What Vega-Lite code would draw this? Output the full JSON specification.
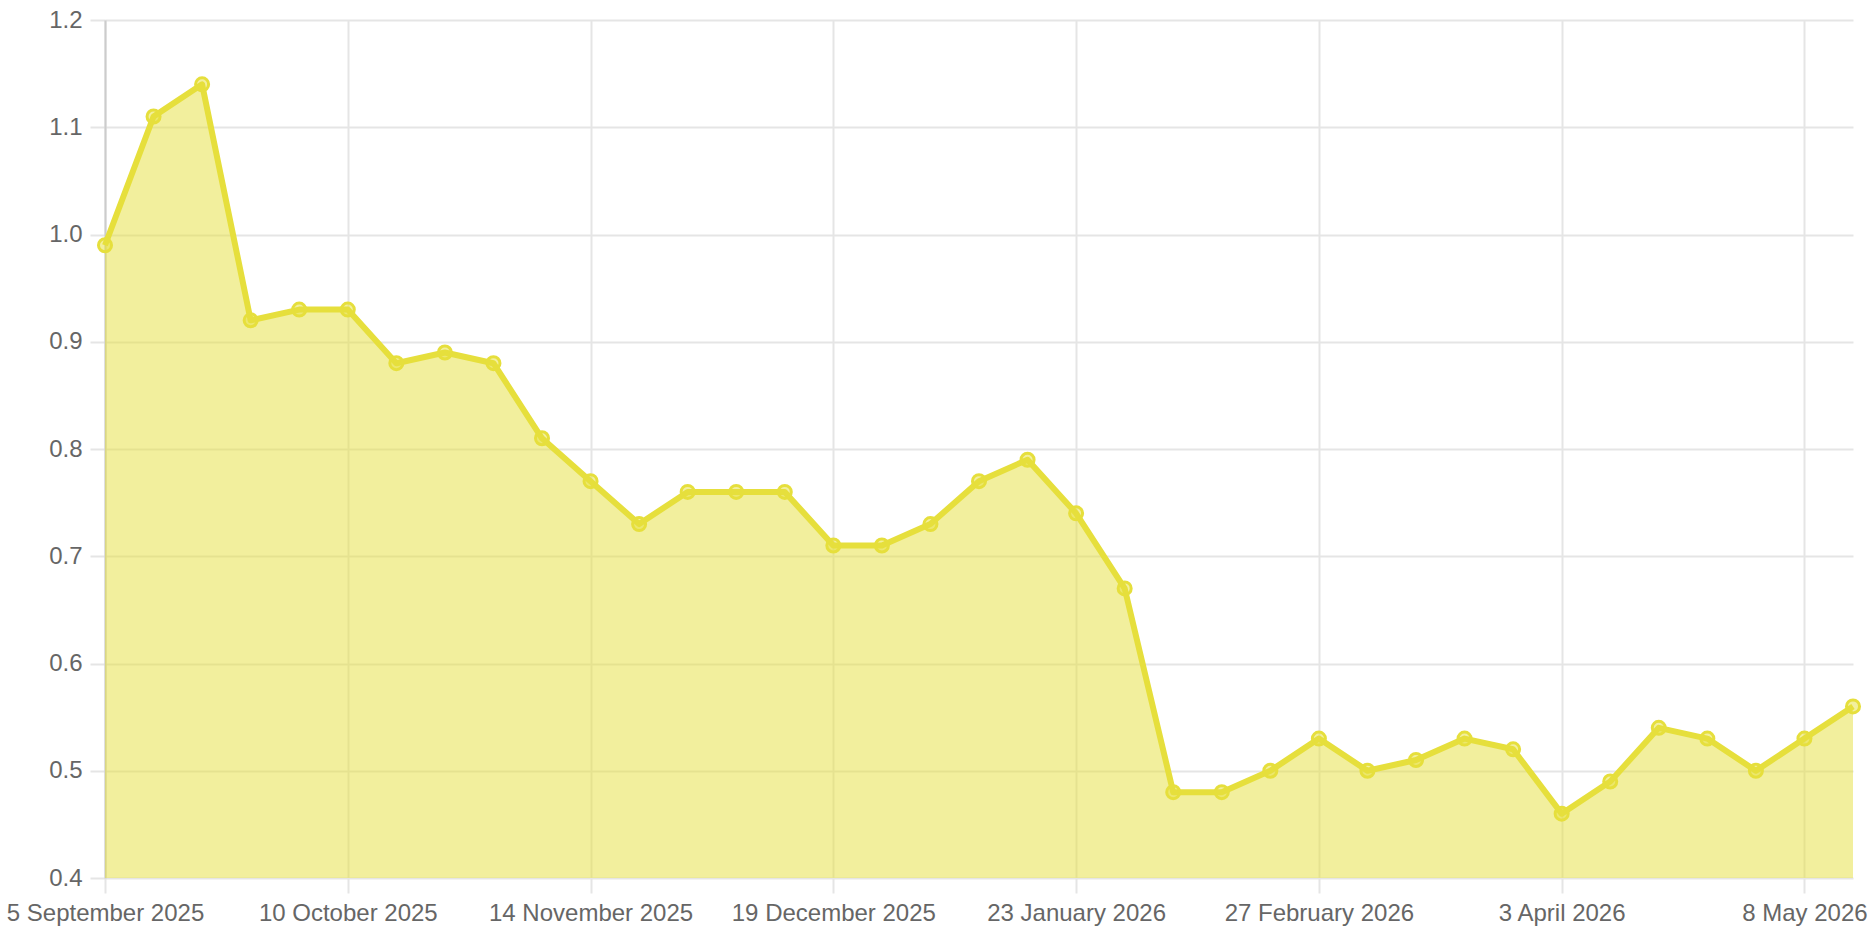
{
  "$schema": "https://vega.github.io/schema/vega-lite/v6.json",
  "autosize": {"type": "none"},
  "width": 1748,
  "height": 858,
  "padding": {"left": 105, "top": 20, "right": 19, "bottom": 58},
  "background": "white",
  "config": {
    "view": {"stroke": null},
    "axis": {
      "labelFont": "Liberation Sans",
      "labelFontSize": 24,
      "labelColor": "#666666",
      "labelLimit": 0,
      "gridColor": "#e5e5e5",
      "gridWidth": 2,
      "tickColor": "#e5e5e5",
      "tickWidth": 2,
      "tickSize": 15,
      "domainColor": "#cccccc",
      "domainWidth": 2,
      "title": null
    }
  },
  "data": {
    "values": [
      {"week": "2025-09-05", "value": 0.99},
      {"week": "2025-09-12", "value": 1.11},
      {"week": "2025-09-19", "value": 1.14},
      {"week": "2025-09-26", "value": 0.92},
      {"week": "2025-10-03", "value": 0.93},
      {"week": "2025-10-10", "value": 0.93},
      {"week": "2025-10-17", "value": 0.88},
      {"week": "2025-10-24", "value": 0.89},
      {"week": "2025-10-31", "value": 0.88},
      {"week": "2025-11-07", "value": 0.81},
      {"week": "2025-11-14", "value": 0.77},
      {"week": "2025-11-21", "value": 0.73},
      {"week": "2025-11-28", "value": 0.76},
      {"week": "2025-12-05", "value": 0.76},
      {"week": "2025-12-12", "value": 0.76},
      {"week": "2025-12-19", "value": 0.71},
      {"week": "2025-12-26", "value": 0.71},
      {"week": "2026-01-02", "value": 0.73},
      {"week": "2026-01-09", "value": 0.77},
      {"week": "2026-01-16", "value": 0.79},
      {"week": "2026-01-23", "value": 0.74},
      {"week": "2026-01-30", "value": 0.67},
      {"week": "2026-02-06", "value": 0.48},
      {"week": "2026-02-13", "value": 0.48},
      {"week": "2026-02-20", "value": 0.50},
      {"week": "2026-02-27", "value": 0.53},
      {"week": "2026-03-06", "value": 0.50},
      {"week": "2026-03-13", "value": 0.51},
      {"week": "2026-03-20", "value": 0.53},
      {"week": "2026-03-27", "value": 0.52},
      {"week": "2026-04-03", "value": 0.46},
      {"week": "2026-04-10", "value": 0.49},
      {"week": "2026-04-17", "value": 0.54},
      {"week": "2026-04-24", "value": 0.53},
      {"week": "2026-05-01", "value": 0.50},
      {"week": "2026-05-08", "value": 0.53},
      {"week": "2026-05-15", "value": 0.56}
    ]
  },
  "encoding": {
    "x": {
      "field": "week",
      "type": "temporal",
      "scale": {
        "type": "utc",
        "nice": false,
        "domain": [
          {"year": 2025, "month": 9, "date": 5, "utc": true},
          {"year": 2026, "month": 5, "date": 15, "utc": true}
        ]
      },
      "axis": {
        "labelExpr": "utcFormat(datum.value, '%-d %B %Y')",
        "labelPadding": 8,
        "labelOverlap": false,
        "labelFlush": false,
        "domain": false,
        "values": [
          {"year": 2025, "month": 9, "date": 5, "utc": true},
          {"year": 2025, "month": 10, "date": 10, "utc": true},
          {"year": 2025, "month": 11, "date": 14, "utc": true},
          {"year": 2025, "month": 12, "date": 19, "utc": true},
          {"year": 2026, "month": 1, "date": 23, "utc": true},
          {"year": 2026, "month": 2, "date": 27, "utc": true},
          {"year": 2026, "month": 4, "date": 3, "utc": true},
          {"year": 2026, "month": 5, "date": 8, "utc": true}
        ]
      }
    },
    "y": {
      "field": "value",
      "type": "quantitative",
      "scale": {"domain": [0.4, 1.2], "nice": false, "zero": false},
      "axis": {
        "values": [0.4, 0.5, 0.6, 0.7, 0.8, 0.9, 1.0, 1.1, 1.2],
        "format": ".1f",
        "labelPadding": 8
      }
    }
  },
  "layer": [
    {
      "mark": {"type": "area", "color": "#e6df3c", "opacity": 0.5},
      "encoding": {"y2": {"datum": 0.4}}
    },
    {
      "mark": {"type": "line", "color": "#e6df3c", "strokeWidth": 6, "strokeJoin": "round"}
    },
    {
      "mark": {
        "type": "point",
        "shape": "circle",
        "size": 170,
        "filled": false,
        "fill": "#e6df3c",
        "fillOpacity": 0.5,
        "stroke": "#e6df3c",
        "strokeWidth": 3,
        "opacity": 1
      }
    }
  ]
}
